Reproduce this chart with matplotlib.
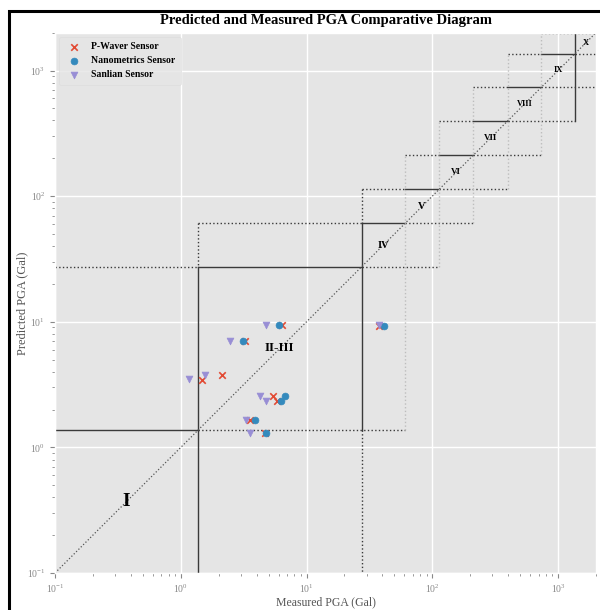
import matplotlib
matplotlib.use('Agg')
import matplotlib.pyplot as plt
from matplotlib.patches import Rectangle

plt.style.use('ggplot')
plt.rcParams['font.family'] = ['Liberation Serif', 'DejaVu Serif']
plt.rcParams['mathtext.fontset'] = 'stix'

# PGA thresholds between intensity boxes (Gal)
thresholds = [1.37, 27.4, 60.6, 113, 211, 397, 733, 1365]
axis_min, axis_max = 0.1, 2000
box_labels = ['I', 'II-III', 'IV', 'V', 'VI', 'VII', 'VIII', 'IX', 'X']
label_sizes = [14, 9.5, 7.5, 7.5, 6.5, 6.5, 6, 6, 6]

# sensor readings: measured vs predicted PGA (Gal)
pwave_meas = [6.43, 3.25, 1.48, 2.13, 5.39, 5.80, 3.56, 4.66, 37.6]
pwave_pred = [9.5, 7.06, 3.46, 3.79, 2.55, 2.34, 1.64, 1.31, 9.23]
nano_meas = [6.09, 3.11, 6.76, 6.25, 3.92, 4.74, 41.2]
nano_pred = [9.5, 7.06, 2.55, 2.32, 1.64, 1.31, 9.23]
sanlian_meas = [4.77, 2.48, 1.16, 1.55, 4.30, 4.77, 3.31, 3.52, 37.6]
sanlian_pred = [9.5, 7.06, 3.48, 3.79, 2.56, 2.34, 1.65, 1.31, 9.35]

fig = plt.figure(figsize=(6, 6.1), dpi=100, facecolor='white')
ax = fig.add_axes([0.0917, 0.0607, 0.9016, 0.8857])
ax.set_xscale('log')
ax.set_yscale('log')
ax.set_xlim(axis_min, axis_max)
ax.set_ylim(axis_min, axis_max)

dark = '#3a3a3a'
faint = '#bdbdbd'


def edge(i):
    if i < 0:
        return axis_min
    if i >= len(thresholds):
        return axis_max
    return thresholds[i]


def hseg(y, x0, x1, style, color=dark):
    if x1 > x0:
        ax.plot([x0, x1], [y, y], linestyle=style, color=color, lw=1.0, zorder=2)


def vseg(x, y0, y1, style, color=dark):
    if y1 != y0:
        ax.plot([x, x], [y0, y1], linestyle=style, color=color, lw=1.0, zorder=2)


# horizontal boundaries
for k, t in enumerate(thresholds):
    hseg(t, edge(k - 2), edge(k - 1), ':')
    hseg(t, edge(k - 1), edge(k), '-')
    hseg(t, edge(k), edge(k + 2), ':')
hseg(axis_max * 0.995, thresholds[6], axis_max, ':')

# vertical boundaries
vseg(thresholds[0], thresholds[2], thresholds[1], ':')
vseg(thresholds[0], thresholds[1], axis_min, '-')
vseg(thresholds[1], thresholds[3], thresholds[2], ':')
vseg(thresholds[1], thresholds[2], thresholds[0], '-')
vseg(thresholds[1], thresholds[0], axis_min, ':')
for k in range(2, 7):
    vseg(thresholds[k], edge(k - 2), edge(k + 2), ':', faint)
vseg(thresholds[7], thresholds[5], axis_max, '-')

# 1:1 line
ax.plot([axis_min, axis_max], [axis_min, axis_max], linestyle=':', color='#555555', lw=0.9, zorder=2)

# box labels at geometric centre of each box
bounds = [axis_min] + thresholds + [axis_max]
for i, lab in enumerate(box_labels):
    c = (bounds[i] * bounds[i + 1]) ** 0.5
    ax.text(c, c, lab, ha='center', va='center', fontsize=label_sizes[i],
            fontweight='bold', color='black', zorder=4)

ax.scatter(pwave_meas, pwave_pred, marker='x', color='#E24A33', s=22, lw=1.2,
           label='P-Waver Sensor', zorder=5)
ax.scatter(nano_meas, nano_pred, marker='o', color='#348ABD', s=24,
           label='Nanometrics Sensor', zorder=5)
ax.scatter(sanlian_meas, sanlian_pred, marker='v', color='#988ED5', s=24,
           label='Sanlian Sensor', zorder=5)

ax.grid(True, which='major', color='white', lw=1.0)
ax.set_axisbelow(True)
ax.tick_params(axis='both', which='both', labelsize=7, colors='#888888')

ax.set_title('Predicted and Measured PGA Comparative Diagram', fontsize=10.5,
             fontweight='bold', color='black', pad=6)
ax.set_xlabel('Measured PGA (Gal)', fontsize=8.5, color='#555555')
ax.set_ylabel('Predicted PGA (Gal)', fontsize=9, color='#555555')
ax.xaxis.set_label_coords(0.5, -0.043)
ax.yaxis.set_label_coords(-0.05, 0.5)

leg = ax.legend(loc='upper left', prop={'weight': 'bold', 'size': 7},
                frameon=True, borderpad=0.6, handletextpad=0.7, labelspacing=0.5,
                borderaxespad=0.4)
leg.get_frame().set_facecolor('#e5e5e5')
leg.get_frame().set_edgecolor('#dcdcdc')

# black frame around the figure (cropped picture)
fig.patches.append(Rectangle((9 / 600, -0.2), 1.2, 1.2 - 10.5 / 610,
                             transform=fig.transFigure, fill=False,
                             edgecolor='black', lw=2.2, clip_on=False))

fig.savefig('out.png', dpi=100, facecolor='white')
